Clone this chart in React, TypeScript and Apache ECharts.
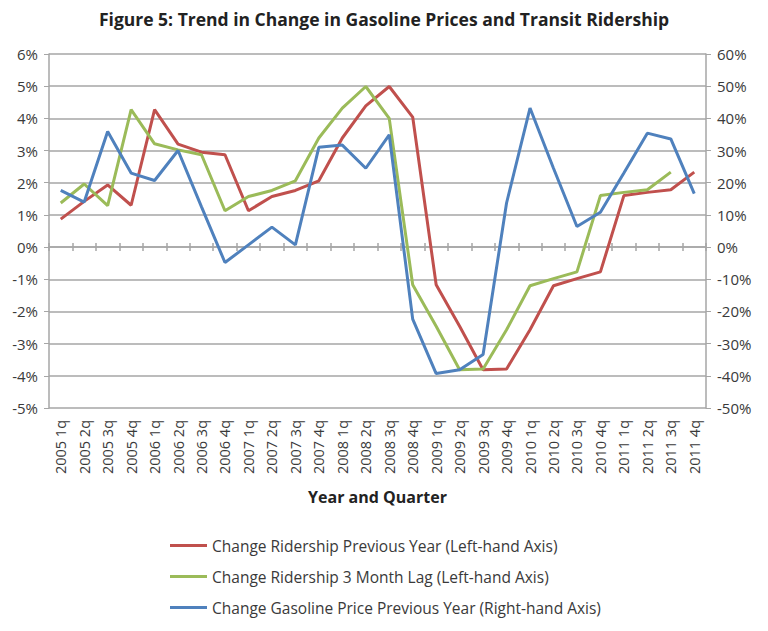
import React, { useEffect, useRef } from "react";
import * as echarts from "echarts";

const categories = [
  "2005 1q", "2005 2q", "2005 3q", "2005 4q",
  "2006 1q", "2006 2q", "2006 3q", "2006 4q",
  "2007 1q", "2007 2q", "2007 3q", "2007 4q",
  "2008 1q", "2008 2q", "2008 3q", "2008 4q",
  "2009 1q", "2009 2q", "2009 3q", "2009 4q",
  "2010 1q", "2010 2q", "2010 3q", "2010 4q",
  "2011 1q", "2011 2q", "2011 3q", "2011 4q",
];

const ridershipPrevYear = [
  0.87, 1.42, 1.93, 1.3, 4.27, 3.2, 2.95, 2.87, 1.13, 1.57, 1.76, 2.06, 3.39, 4.39,
  4.99, 4.04, -1.17, -2.46, -3.81, -3.79, -2.57, -1.2, -0.98, -0.77, 1.6, 1.7, 1.78, 2.33,
];

const ridershipLag = [
  1.37, 1.96, 1.29, 4.27, 3.21, 3.02, 2.87, 1.13, 1.57, 1.76, 2.06, 3.39, 4.32, 4.99,
  4.0, -1.17, -2.46, -3.81, -3.79, -2.57, -1.2, -0.98, -0.77, 1.6, 1.7, 1.78, 2.33,
];

const gasolinePrevYear = [
  17.6, 14.0, 35.9, 23.0, 20.7, 30.0, 12.5, -4.8, 0.7, 6.2, 0.7, 31.0, 31.7, 24.5,
  34.9, -22.4, -39.3, -38.1, -33.4, 13.7, 43.2, 24.5, 6.4, 10.8, 23.0, 35.4, 33.6, 16.6,
];

const seriesNames = [
  "Change Ridership Previous Year (Left-hand Axis)",
  "Change Ridership 3 Month Lag (Left-hand Axis)",
  "Change Gasoline Price Previous Year (Right-hand Axis)",
];

const colors = ["#C0504D", "#9BBB59", "#4F81BD"];
const FONT = "'Open Sans', Lato, sans-serif";
const TEXT = "#3a3a3a";
const GRID = "#a6a6a6";

export default function App() {
  const ref = useRef<HTMLDivElement>(null);
  useEffect(() => {
    if (!ref.current) return;
    const chart = echarts.init(ref.current, null, { renderer: "svg" });
    const baseCat = {
      type: "category" as const,
      data: categories,
      boundaryGap: true,
      gridIndex: 0,
    };
    chart.setOption({
      animation: false,
      backgroundColor: "#ffffff",
      textStyle: { fontFamily: FONT },
      title: {
        text: "Figure 5: Trend in Change in Gasoline Prices and Transit Ridership",
        left: "center",
        top: 5,
        textStyle: { fontFamily: FONT, fontSize: 17.5, fontWeight: "bold", color: "#222" },
      },
      grid: { left: 49, right: 62, top: 54, bottom: 223, containLabel: false },
      legend: {
        orient: "vertical",
        left: 170,
        top: 537,
        padding: 0,
        itemWidth: 37,
        itemHeight: 3,
        itemGap: 14,
        icon: "rect",
        data: seriesNames,
        textStyle: { fontFamily: FONT, fontSize: 15.5, color: TEXT, lineHeight: 17 },
      },
      xAxis: [
        {
          ...baseCat,
          position: "bottom",
          axisLine: { show: false, onZero: false },
          axisTick: { show: false },
          axisLabel: { rotate: 90, fontSize: 14.5, color: TEXT, margin: 12, fontFamily: FONT, interval: 0 },
          name: "Year and Quarter",
          nameLocation: "middle",
          nameGap: 81,
          nameTextStyle: { fontFamily: FONT, fontSize: 16, fontWeight: "bold", color: "#222" },
          splitLine: { show: false },
        },
        {
          ...baseCat,
          position: "bottom",
          axisLine: { show: true, onZero: true, onZeroAxisIndex: 0, lineStyle: { color: GRID, width: 1.5 } },
          axisTick: { show: true, inside: true, length: 4, interval: 0, lineStyle: { color: GRID, width: 1.5 } },
          axisLabel: { show: false },
          splitLine: { show: false },
        },
        {
          ...baseCat,
          position: "bottom",
          axisLine: { show: false, onZero: true, onZeroAxisIndex: 0 },
          axisTick: { show: true, inside: false, length: 4, interval: 0, lineStyle: { color: GRID, width: 1.5 } },
          axisLabel: { show: false },
          splitLine: { show: false },
        },
      ],
      yAxis: [
        {
          type: "value",
          min: -5,
          max: 6,
          interval: 1,
          position: "left",
          axisLine: { show: true, lineStyle: { color: GRID, width: 1.5 } },
          axisTick: { show: true, length: 5, lineStyle: { color: GRID } },
          axisLabel: { formatter: "{value}%", fontSize: 15, color: TEXT, margin: 11, fontFamily: FONT },
          splitLine: { show: true, lineStyle: { color: GRID, width: 1.5 } },
        },
        {
          type: "value",
          min: -50,
          max: 60,
          interval: 10,
          position: "right",
          axisLine: { show: true, lineStyle: { color: GRID, width: 1.5 } },
          axisTick: { show: true, length: 5, lineStyle: { color: GRID } },
          axisLabel: { formatter: "{value}%", fontSize: 15, color: TEXT, margin: 11, fontFamily: FONT },
          splitLine: { show: false },
        },
      ],
      series: [
        {
          name: seriesNames[0],
          type: "line",
          xAxisIndex: 0,
          yAxisIndex: 0,
          data: ridershipPrevYear,
          showSymbol: false,
          symbol: "none",
          lineStyle: { color: colors[0], width: 3 },
          itemStyle: { color: colors[0] },
        },
        {
          name: seriesNames[1],
          type: "line",
          xAxisIndex: 0,
          yAxisIndex: 0,
          data: ridershipLag,
          showSymbol: false,
          symbol: "none",
          lineStyle: { color: colors[1], width: 3 },
          itemStyle: { color: colors[1] },
        },
        {
          name: seriesNames[2],
          type: "line",
          xAxisIndex: 0,
          yAxisIndex: 1,
          data: gasolinePrevYear,
          showSymbol: false,
          symbol: "none",
          lineStyle: { color: colors[2], width: 3 },
          itemStyle: { color: colors[2] },
        },
      ],
    });
    return () => chart.dispose();
  }, []);
  return (
    <div
      ref={ref}
      style={{ position: "fixed", left: 0, top: 0, width: 768, height: 631, background: "#fff" }}
    />
  );
}
